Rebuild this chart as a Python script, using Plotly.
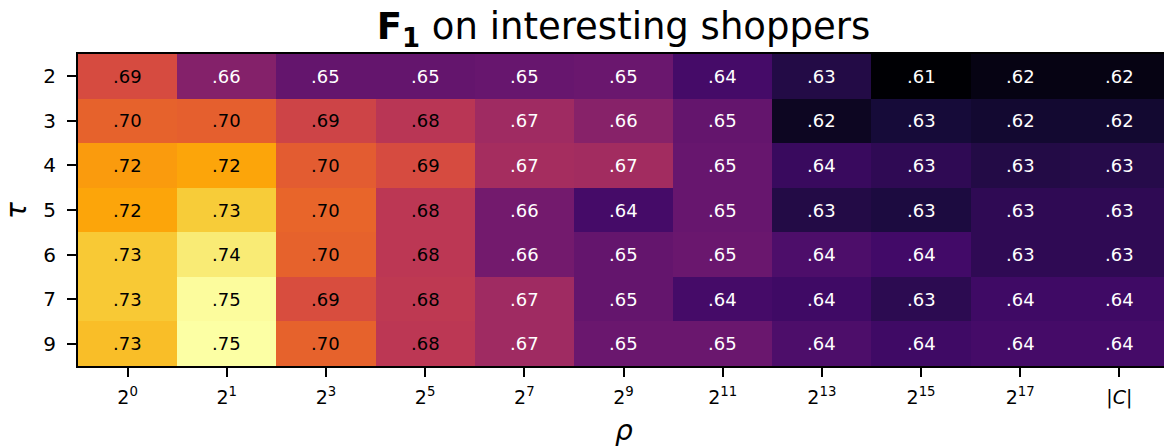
import plotly.graph_objects as go

# Data
rho_labels = ["2<sup>0</sup>", "2<sup>1</sup>", "2<sup>3</sup>", "2<sup>5</sup>", "2<sup>7</sup>",
              "2<sup>9</sup>", "2<sup>11</sup>", "2<sup>13</sup>", "2<sup>15</sup>", "2<sup>17</sup>",
              "|<i>C</i>|"]
tau_labels = ["2", "3", "4", "5", "6", "7", "9"]

f1_tau2 = [0.693, 0.663, 0.652, 0.652, 0.653, 0.654, 0.641, 0.630, 0.612, 0.616, 0.616]
f1_tau3 = [0.702, 0.701, 0.689, 0.681, 0.672, 0.664, 0.652, 0.620, 0.626, 0.624, 0.624]
f1_tau4 = [0.721, 0.724, 0.700, 0.693, 0.674, 0.673, 0.653, 0.637, 0.634, 0.630, 0.631]
f1_tau5 = [0.724, 0.735, 0.703, 0.682, 0.657, 0.641, 0.653, 0.630, 0.628, 0.634, 0.634]
f1_tau6 = [0.734, 0.745, 0.702, 0.682, 0.657, 0.652, 0.654, 0.644, 0.640, 0.634, 0.634]
f1_tau7 = [0.734, 0.751, 0.694, 0.683, 0.672, 0.652, 0.641, 0.639, 0.633, 0.639, 0.639]
f1_tau9 = [0.731, 0.752, 0.702, 0.682, 0.672, 0.654, 0.654, 0.644, 0.639, 0.641, 0.641]

z = [f1_tau2, f1_tau3, f1_tau4, f1_tau5, f1_tau6, f1_tau7, f1_tau9]

zmin = min(min(r) for r in z)
zmax = max(max(r) for r in z)

inferno = [
    [0.0, "#000004"], [0.1, "#160b39"], [0.2, "#420a68"], [0.3, "#6a176e"],
    [0.4, "#932667"], [0.5, "#bc3754"], [0.6, "#dd513a"], [0.7, "#f37819"],
    [0.8, "#fca50a"], [0.9, "#f6d746"], [1.0, "#fcffa4"],
]

# page body has an 8px margin; the figure is sized/offset to compensate
OFF = 8
W, H = 1172 - OFF, 448 - OFF
L, R, T, B = 78 - OFF, 3, 54 - OFF, 448 - 366
plot_w = W - L - R
plot_h = H - T - B

fig = go.Figure()
fig.add_trace(go.Heatmap(
    z=z, x=list(range(len(rho_labels))), y=list(range(len(tau_labels))),
    colorscale=inferno, zmin=zmin, zmax=zmax,
    showscale=False, hoverinfo="skip",
))

font_family = "DejaVu Sans"
threshold = zmin + 0.46 * (zmax - zmin)
annotations = []
for i, row in enumerate(z):
    for j, v in enumerate(row):
        txt = ("%.2f" % v)[1:]
        annotations.append(dict(
            x=j, y=i, xref="x", yref="y",
            text=txt, showarrow=False,
            font=dict(family=font_family, size=18,
                      color="black" if v > threshold else "white"),
        ))

annotations.append(dict(
    text="<i>τ</i>", x=(16 - OFF - L) / plot_w, y=(H - B - (211 - OFF)) / plot_h,
    xref="paper", yref="paper", xanchor="center", yanchor="middle",
    showarrow=False, textangle=-90,
    font=dict(family=font_family, size=28, color="black"),
))
annotations.append(dict(
    text="<i>ρ</i>", x=0.5, y=-((430 - OFF) - (H - B)) / plot_h, xref="paper", yref="paper",
    showarrow=False, xanchor="center", yanchor="middle",
    font=dict(family=font_family, size=28, color="black"),
))

fig.update_layout(
    width=W, height=H,
    margin=dict(l=L, r=R, t=T, b=B),
    paper_bgcolor="white", plot_bgcolor="white",
    title=dict(text="<b>F<sub>1</sub></b> on interesting shoppers",
               x=0.5, xref="paper", y=1 - (26 - OFF) / H, yref="container",
               xanchor="center", yanchor="middle",
               font=dict(family=font_family, size=37, color="black")),
    font=dict(family=font_family, color="black"),
    annotations=annotations,
)

fig.update_xaxes(tickmode="array", tickvals=list(range(len(rho_labels))), ticktext=rho_labels,
                 range=[-0.5, len(rho_labels) - 0.5], automargin=False,
                 ticks="outside", ticklen=9, tickwidth=2, ticklabelstandoff=4,
                 tickcolor="black", showline=True, linecolor="black", linewidth=2.2,
                 mirror=True, tickfont=dict(family=font_family, size=19, color="black"),
                 showgrid=False, zeroline=False)
fig.update_yaxes(tickmode="array", tickvals=list(range(len(tau_labels))), ticktext=tau_labels,
                 range=[len(tau_labels) - 0.5, -0.5], automargin=False,
                 ticks="outside", ticklen=9, ticklabelstandoff=7,
                 tickwidth=2, tickcolor="black", showline=True, linecolor="black",
                 linewidth=2.2, mirror=True,
                 tickfont=dict(family=font_family, size=20, color="black"),
                 showgrid=False, zeroline=False)

fig.write_html("out.html")
